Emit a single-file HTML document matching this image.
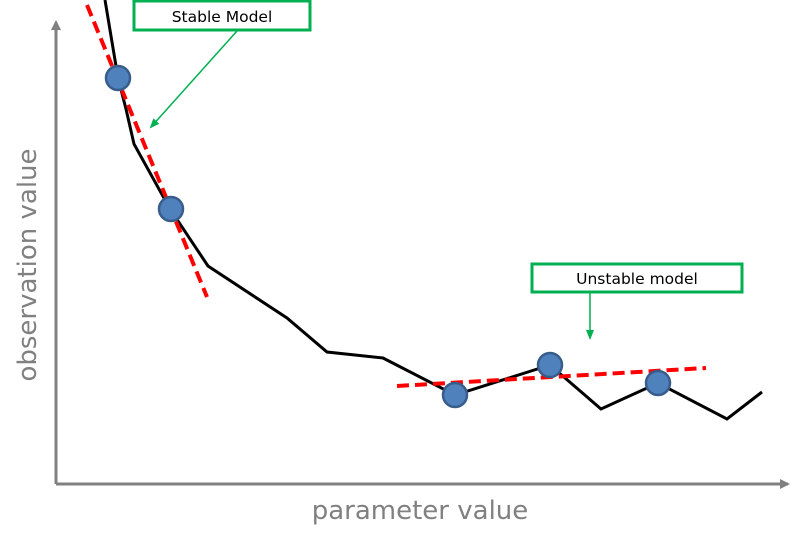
<!DOCTYPE html>
<html><head><meta charset="utf-8"><style>
html,body{margin:0;padding:0;background:#fff;}
svg{display:block;font-family:"DejaVu Sans","Liberation Sans",sans-serif;}
</style></head><body>
<svg width="812" height="544" viewBox="0 0 812 544">
<defs>
<marker id="ga" markerWidth="10" markerHeight="10" refX="8" refY="5" orient="auto" markerUnits="userSpaceOnUse"><path d="M0,0 L10,5 L0,10 z" fill="#808080"/></marker>
<marker id="gr" markerWidth="10" markerHeight="10" refX="8" refY="5" orient="auto" markerUnits="userSpaceOnUse"><path d="M0,1 L10,5 L0,9 z" fill="#00b050"/></marker>
</defs>
<g id="axes">
<line x1="56" y1="484" x2="56" y2="22" stroke="#808080" stroke-width="3" marker-end="url(#ga)"/>
<line x1="56" y1="484" x2="788" y2="484" stroke="#808080" stroke-width="3" marker-end="url(#ga)"/>
<text x="36" y="265" transform="rotate(-90 36 265)" text-anchor="middle" font-size="26" fill="#808080">observation value</text>
<text x="420" y="519" text-anchor="middle" font-size="26" fill="#808080">parameter value</text>
</g>
<g id="marks"></g>
<g id="annot">
<rect x="134" y="1" width="176" height="29" fill="#fff" stroke="#00b050" stroke-width="3"/>
<text x="222" y="22" text-anchor="middle" font-size="15.5" fill="#000">Stable Model</text>
<line x1="237" y1="31" x2="151" y2="127" stroke="#00b050" stroke-width="1.5" marker-end="url(#gr)"/>
<rect x="532" y="264" width="210" height="28" fill="#fff" stroke="#00b050" stroke-width="3"/>
<text x="637" y="284" text-anchor="middle" font-size="15.5" fill="#000">Unstable model</text>
<line x1="590" y1="293" x2="590" y2="338" stroke="#00b050" stroke-width="1.5" marker-end="url(#gr)"/>
</g>
</svg>
<script>
const curveX=[49,62,70,78,114,152,231,271,327,399,494,545,602,671,706];
const curveY=[484,406,375,340,275,218,166,132,126,89,119,75,101,65,92];
const dotX=[62,115,399,494,602];
const dotY=[406,275,89,119,101];
const stableFitX=[31,151];
const stableFitY=[479,187];
const unstableFitX=[341,650];
const unstableFitY=[98,116];
function sx(v){return 56+v;}
function sy(v){return 484-v;}
const NS="http://www.w3.org/2000/svg";
const g=document.getElementById('marks');
const pl=document.createElementNS(NS,'polyline');
pl.setAttribute('points',curveX.map((v,i)=>sx(v)+','+sy(curveY[i])).join(' '));
pl.setAttribute('fill','none');pl.setAttribute('stroke','#000');pl.setAttribute('stroke-width','3');


g.appendChild(pl);
function fit(xs,ys,name){
 const l=document.createElementNS(NS,'line');
 l.setAttribute('x1',sx(xs[0]));l.setAttribute('y1',sy(ys[0]));
 l.setAttribute('x2',sx(xs[1]));l.setAttribute('y2',sy(ys[1]));
 l.setAttribute('stroke','#ff0000');l.setAttribute('stroke-width','4');l.setAttribute('stroke-dasharray','12 6');
 
 
 g.appendChild(l);
}
fit(stableFitX,stableFitY,'stable-fit-line');
fit(unstableFitX,unstableFitY,'unstable-fit-line');
dotX.forEach((v,i)=>{
 const c=document.createElementNS(NS,'circle');
 c.setAttribute('cx',sx(v));c.setAttribute('cy',sy(dotY[i]));c.setAttribute('r','12');
 c.setAttribute('fill','#4f81bd');c.setAttribute('stroke','#385d8a');c.setAttribute('stroke-width','2.5');
 
 
 g.appendChild(c);
});
</script>
</body></html>
